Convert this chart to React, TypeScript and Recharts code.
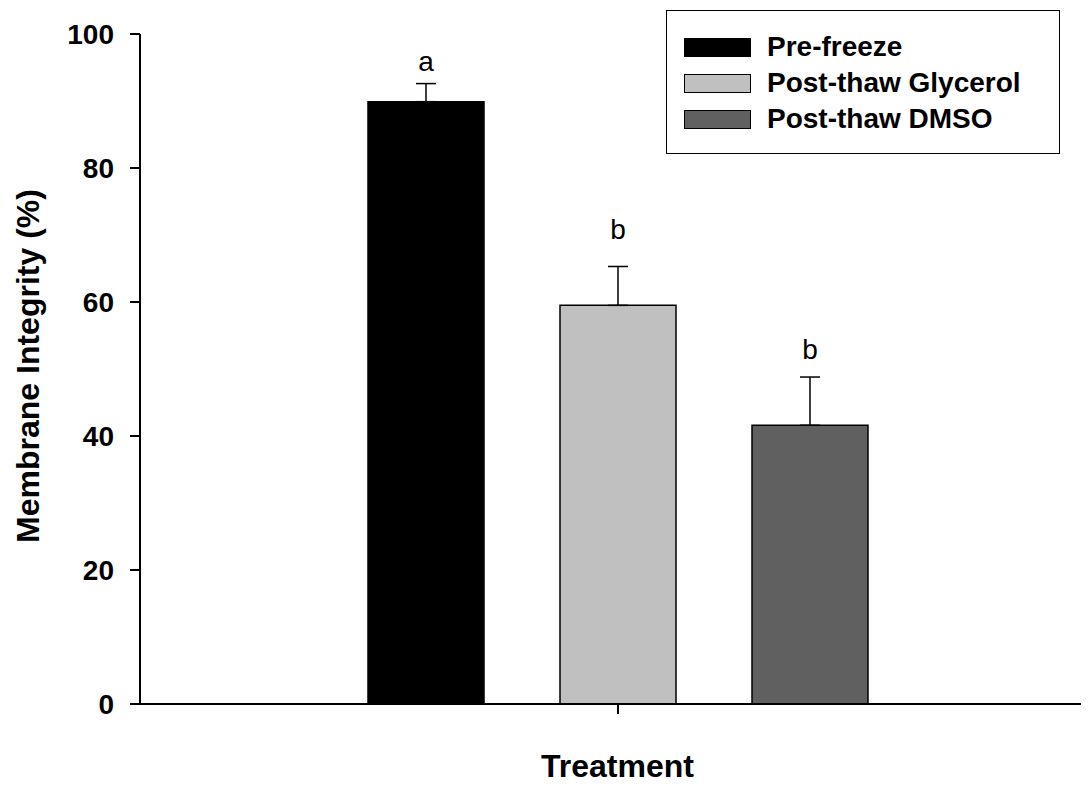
import React from 'react';
import { BarChart, Bar, XAxis, YAxis, ErrorBar, LabelList, Legend, Label } from 'recharts';

// Membrane integrity by treatment (mean ± SE, upper error only)
const categories = [''];
const seriesNames = ['Pre-freeze', 'Post-thaw Glycerol', 'Post-thaw DMSO'];
const meanValues = [89.9, 59.5, 41.6];
const errorValues = [2.7, 5.8, 7.2];
const groupLetters = ['a', 'b', 'b'];
const yTicks = [0, 20, 40, 60, 80, 100];

const seriesKeys = ['s0', 's1', 's2'];
const fills = ['#000000', '#c0c0c0', '#606060'];
const letterGaps = [13, 27, 18];
const FONT = '"Liberation Sans", Arial, Helvetica, sans-serif';

const data = categories.map((name) => {
  const row: Record<string, any> = { name };
  seriesKeys.forEach((k, i) => {
    row[k] = meanValues[i];
    row[k + 'Err'] = [0, errorValues[i]];
    row[k + 'Letter'] = groupLetters[i];
  });
  return row;
});

const makeLetter = (i: number) => (props: any) => {
  const vb = props.viewBox ?? props;
  const x = Number(vb.x);
  const y = Number(vb.y);
  const w = Number(vb.width);
  const h = Math.abs(Number(vb.height));
  const pxPerUnit = h / meanValues[i];
  const capY = y - errorValues[i] * pxPerUnit;
  return (
    <text
      x={x + w / 2}
      y={capY - letterGaps[i]}
      textAnchor="middle"
      fontFamily={FONT}
      fontSize={28}
      fill="#000"
    >
      {props.value}
    </text>
  );
};

const LegendBox = () => (
  <div
    style={{
      width: 394,
      height: 144,
      border: '1.5px solid #000',
      boxSizing: 'border-box',
      position: 'relative',
      background: '#fff',
      fontFamily: FONT,
    }}
  >
    {seriesNames.map((n, i) => (
      <div
        key={n}
        style={{
          position: 'absolute',
          left: 17,
          top: 26 + i * 36,
          height: 20,
          display: 'flex',
          alignItems: 'center',
          whiteSpace: 'nowrap',
        }}
      >
        <div
          style={{
            width: 67,
            height: 19,
            background: fills[i],
            border: i === 0 ? 'none' : '1px solid #000',
            boxSizing: 'border-box',
          }}
        />
        <span style={{ marginLeft: 16, fontSize: 28, fontWeight: 'bold', lineHeight: '20px', color: '#000' }}>
          {n}
        </span>
      </div>
    ))}
  </div>
);

const YLabel = (props: any) => {
  const vb = props.viewBox;
  const cy = vb.y + vb.height / 2 - 3;
  return (
    <text
      x={20}
      y={cy}
      transform={`rotate(-90, 20, ${cy})`}
      textAnchor="middle"
      dominantBaseline="central"
      fontFamily={FONT}
      fontSize={32}
      fontWeight="bold"
      fill="#000"
    >
      Membrane Integrity (%)
    </text>
  );
};

const XLabel = (props: any) => {
  const vb = props.viewBox;
  return (
    <text
      x={vb.x + vb.width / 2 + 3}
      y={769}
      textAnchor="middle"
      fontFamily={FONT}
      fontSize={32}
      fontWeight="bold"
      fill="#000"
    >
      Treatment
    </text>
  );
};

export default function App() {
  return (
    <div style={{ width: 1081, height: 777, background: '#fff' }}>
      <BarChart
        width={1081}
        height={777}
        data={data}
        margin={{ top: 26, right: 0, left: 0, bottom: 0 }}
        barSize={116}
        barGap={76}
      >
        <XAxis
          dataKey="name"
          type="category"
          height={81}
          padding={{ left: 7, right: 0 }}
          tickSize={10}
          tickFormatter={() => ''}
          axisLine={{ stroke: '#000', strokeWidth: 2 }}
          tickLine={{ stroke: '#000', strokeWidth: 2 }}
        >
          <Label content={<XLabel />} />
        </XAxis>
        <YAxis
          width={132}
          domain={[0, 100]}
          ticks={yTicks}
          interval={0}
          tickSize={10}
          tickMargin={16}
          axisLine={{ stroke: '#000', strokeWidth: 2 }}
          tickLine={{ stroke: '#000', strokeWidth: 2 }}
          tick={{ fill: '#000', fontSize: 28, fontWeight: 'bold', fontFamily: FONT }}
        >
          <Label content={<YLabel />} />
        </YAxis>
        <Legend
          layout="vertical"
          align="center"
          verticalAlign="middle"
          content={<LegendBox />}
          wrapperStyle={{ position: 'absolute', left: 658, top: 2, width: 394, height: 144 }}
        />
        {seriesKeys.map((k, i) => (
          <Bar
            key={k}
            dataKey={k}
            name={seriesNames[i]}
            fill={fills[i]}
            stroke="#000"
            strokeWidth={1.5}
            isAnimationActive={false}
          >
            <ErrorBar
              dataKey={k + 'Err'}
              direction="y"
              width={10}
              stroke="#000"
              strokeWidth={1.5}
              isAnimationActive={false}
            />
            <LabelList dataKey={k + 'Letter'} content={makeLetter(i)} />
          </Bar>
        ))}
      </BarChart>
    </div>
  );
}
